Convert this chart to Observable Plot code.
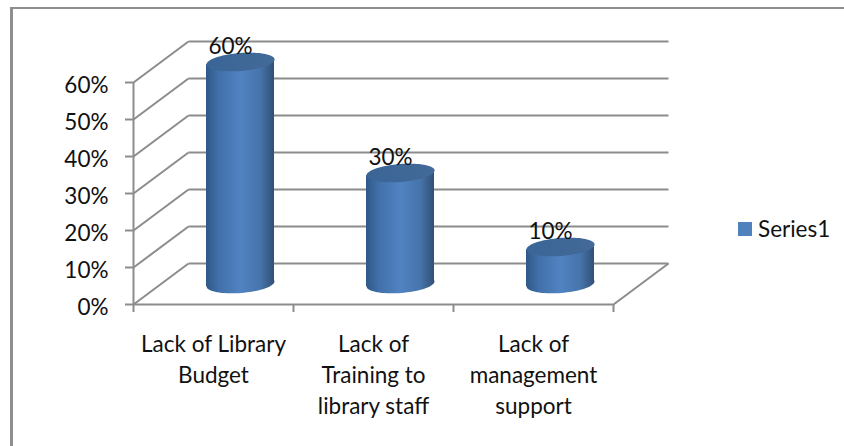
<!DOCTYPE html>
<html>
<head>
<meta charset="utf-8">
<script src="https://cdn.jsdelivr.net/npm/d3@7"></script>
<script src="https://cdn.jsdelivr.net/npm/@observablehq/plot@0.6"></script>
<style>
html,body{margin:0;padding:0;background:#fff}
#chart{position:relative;width:844px;height:446px;overflow:hidden}
#legend{position:absolute;left:738px;top:217px;display:flex;align-items:center;font:22.5px Lato,sans-serif;color:#111;line-height:24px}
#legend i{display:block;width:14px;height:14px;background:#4f81bd;margin-right:6px}
#edge-top{position:absolute;left:10px;top:7px;right:0;height:2px;background:#8e8e8e}
#edge-left{position:absolute;left:10px;top:7px;bottom:0;width:2.5px;background:#8e8e8e}
</style>
</head>
<body>
<div id="chart"><div id="edge-top"></div><div id="edge-left"></div></div>
<script>
const categories = ["Lack of Library\nBudget", "Lack of\nTraining to\nlibrary staff", "Lack of\nmanagement\nsupport"];
const values = [60, 30, 10];
const yTicks = [0, 10, 20, 30, 40, 50, 60];
const xTicks = [0, 1, 2, 3];
const seriesName = "Series1";

const grey = "#8c8c8c";
// oblique projection: wall depth, expressed in axis units and in pixels
const depthX = 55 / 160, depthY = 41 / 3.7;
const midDx = 27, midDy = -20.5;
const halfBar = 34 / 160;
const tilt = 2.7 / 3.7;

const bars = categories.map((c, i) => ({cat: c, i, c: i + 0.5, v: values[i]}));
const bodies = bars.flatMap(b => [
  {cat: b.cat, x: b.c - halfBar, y1: -tilt, y2: b.v - tilt},
  {cat: b.cat, x: b.c + halfBar, y1: tilt, y2: b.v + tilt}
]);

function ellipse(rx, ry, deg) {
  const t = deg * Math.PI / 180, n = 72;
  return {draw(ctx) {
    for (let k = 0; k < n; k++) {
      const a = 2 * Math.PI * k / n;
      const ex = rx * Math.cos(a), ey = ry * Math.sin(a);
      const px = ex * Math.cos(t) - ey * Math.sin(t), py = ex * Math.sin(t) + ey * Math.cos(t);
      k ? ctx.lineTo(px, py) : ctx.moveTo(px, py);
    }
    ctx.closePath();
  }};
}
const capShape = ellipse(34.2, 9, -4.5);
const baseShape = ellipse(34, 9, -4.5);

const font = "Lato, sans-serif";
const size = 22.5;

const plot = Plot.plot({
  width: 844, height: 446,
  marginLeft: 133, marginRight: 231, marginTop: 82, marginBottom: 142,
  x: {domain: [0, 3], axis: null},
  y: {domain: [0, 60], axis: null},
  style: {fontFamily: font, fontSize: size + "px", background: "transparent", overflow: "visible"},
  marks: [
    () => {
      const ns = "http://www.w3.org/2000/svg";
      const defs = document.createElementNS(ns, "defs");
      defs.innerHTML = `
        <linearGradient id="side" x1="0" x2="1" y1="0" y2="0">
          <stop offset="0" stop-color="#2f5888"/>
          <stop offset="0.18" stop-color="#4070a8"/>
          <stop offset="0.5" stop-color="#5183c3"/>
          <stop offset="0.8" stop-color="#4674aa"/>
          <stop offset="1" stop-color="#2f4f76"/>
        </linearGradient>
        <linearGradient id="cap" x1="0" x2="1" y1="0" y2="0">
          <stop offset="0" stop-color="#3a6596"/>
          <stop offset="1" stop-color="#436a98"/>
        </linearGradient>`;
      return defs;
    },
    // back wall and floor lines
    Plot.link(yTicks, {x1: depthX, x2: 3 + depthX, y1: d => d + depthY, y2: d => d + depthY, stroke: grey, strokeWidth: 2}),
    Plot.link(yTicks, {x1: 0, x2: depthX, y1: d => d, y2: d => d + depthY, stroke: grey, strokeWidth: 2}),
    Plot.link([3], {x1: d => d, x2: d => d + depthX, y1: 0, y2: depthY, stroke: grey, strokeWidth: 2}),
    // front axes
    Plot.ruleX([0], {y1: 0, y2: 60, stroke: grey, strokeWidth: 2}),
    Plot.ruleY([0], {x1: 0, x2: 3, stroke: grey, strokeWidth: 2}),
    Plot.axisY({ticks: yTicks, tickFormat: () => "", tickSize: 8, stroke: grey, strokeWidth: 2, label: null}),
    Plot.text(yTicks, {x: 0, y: d => d, text: d => d + "%", textAnchor: "end", fill: "#111", fontSize: size, dx: -25, dy: 3}),
    Plot.axisX({ticks: xTicks, tickFormat: () => "", tickSize: 8, stroke: grey, strokeWidth: 2, label: null}),
    // cylinders
    Plot.dot(bars, {x: "c", y: 0, symbol: baseShape, r: 3, fill: "url(#side)", stroke: "none", dx: midDx, dy: midDy}),
    Plot.areaY(bodies, {x: "x", y1: "y1", y2: "y2", z: "cat", fill: "url(#side)", dx: midDx, dy: midDy, curve: "linear"}),
    Plot.dot(bars, {x: "c", y: "v", symbol: capShape, r: 3, fill: "url(#cap)", stroke: "none", dx: midDx, dy: midDy}),
    // labels
    Plot.text(bars, {x: "c", y: "v", text: d => d.v + "%", fill: "#111", fontSize: size, dx: 17, dy: midDy - 15.5}),
    Plot.text(bars, {x: "c", y: 0, text: "cat", fill: "#111", fontSize: size, lineAnchor: "top", lineHeight: 1.37, dy: 26})
  ]
});
const chart = document.getElementById("chart");
chart.appendChild(plot);
plot.style.position = "absolute";
plot.style.left = "0";
plot.style.top = "0";

const legend = document.createElement("div");
legend.id = "legend";
legend.innerHTML = "<i></i><span></span>";
legend.querySelector("span").textContent = seriesName;
chart.appendChild(legend);
</script>
</body>
</html>
